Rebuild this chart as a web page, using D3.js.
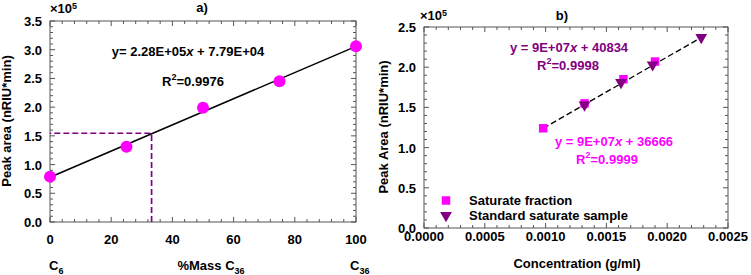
<!DOCTYPE html>
<html>
<head>
<meta charset="utf-8">
<script src="https://cdn.jsdelivr.net/npm/d3@7"></script>
<style>
  body { margin: 0; background: #fff; }
  svg text { font-family: "Liberation Sans", Arial, sans-serif; font-weight: bold; font-size: 13px; }
</style>
</head>
<body>
<svg id="chart" width="751" height="275"></svg>
<script>
// panel a) calibration with C6/C36 mixtures (values x1e5)
const massPct = [0, 25, 50, 75, 100];
const peakAreaA = [0.79, 1.31, 1.99, 2.45, 3.06];
const fitA = { slope: 2.28, intercept: 0.779 }; // per fraction, x1e5
const readX = 33.2, readY = 1.545;
const xTicksA = [0, 20, 40, 60, 80, 100];
const yTicksA = [0, 0.5, 1.0, 1.5, 2.0, 2.5, 3.0, 3.5];

// panel b) concentration series (values x1e5)
const concSat = [0.00098, 0.00132, 0.00164, 0.0019];
const areaSat = [1.24, 1.55, 1.85, 2.07];
const concStd = [0.00132, 0.00162, 0.00188, 0.00228];
const areaStd = [1.53, 1.81, 2.03, 2.37];
const trendB = { x: [0.00098, 0.00228], y: [1.24, 2.37] };
const xTicksB = [0, 0.0005, 0.001, 0.0015, 0.002, 0.0025];
const yTicksB = [0, 0.5, 1.0, 1.5, 2.0, 2.5];

const MAGENTA = "#ff00ff", PURPLE = "#800080";
const svg = d3.select("#chart");

// frame with inward ticks on all four sides
function frame(x, y, xMinor, yMinor, xMajor, yMajor) {
  const [x0, x1] = x.range(), [y0, y1] = y.range();
  const g = svg.append("g").attr("stroke", "#555").attr("stroke-width", 1);
  g.append("rect").attr("x", x0).attr("y", y1).attr("width", x1 - x0).attr("height", y0 - y1)
    .attr("fill", "none");
  const isMajor = (v, list) => list.some(m => Math.abs(m - v) < 1e-9);
  xMinor.forEach(v => {
    const len = isMajor(v, xMajor) ? 5 : 3;
    g.append("line").attr("x1", x(v)).attr("x2", x(v)).attr("y1", y0).attr("y2", y0 - len);
    g.append("line").attr("x1", x(v)).attr("x2", x(v)).attr("y1", y1).attr("y2", y1 + len);
  });
  yMinor.forEach(v => {
    const len = isMajor(v, yMajor) ? 5 : 3;
    g.append("line").attr("y1", y(v)).attr("y2", y(v)).attr("x1", x0).attr("x2", x0 + len);
    g.append("line").attr("y1", y(v)).attr("y2", y(v)).attr("x1", x1).attr("x2", x1 - len);
  });
}

function tickLabels(x, y, xTicks, yTicks, xFmt, yFmt, xBase) {
  const [x0] = x.range();
  svg.append("g").selectAll("text").data(xTicks).enter().append("text")
    .attr("x", d => x(d)).attr("y", xBase).attr("text-anchor", "middle").text(xFmt);
  svg.append("g").selectAll("text").data(yTicks).enter().append("text")
    .attr("x", x0 - 8).attr("y", d => y(d) + 5).attr("text-anchor", "end").text(yFmt);
}

function label(x, y, parts, opts = {}) {
  const t = svg.append("text").attr("x", x).attr("y", y)
    .attr("text-anchor", opts.anchor || "middle").attr("fill", opts.fill || "#000");
  if (opts.rotate) t.attr("transform", `rotate(-90,${x},${y})`);
  parts.forEach(p => {
    const s = t.append("tspan").text(p.t);
    if (p.sup) s.attr("font-size", 9).attr("dy", p.sup === true ? -6 : p.sup);
    if (p.sub) s.attr("font-size", 9).attr("dy", 4);
    if (p.back) s.attr("dy", p.back);
    if (p.it) s.attr("font-style", "italic");
  });
  return t;
}

// ---------- panel a ----------
const xA = d3.scaleLinear().domain([0, 100]).range([50, 356]);
const yA = d3.scaleLinear().domain([0, 3.5]).range([222, 21]);
frame(xA, yA, d3.range(0, 100.01, 4), d3.range(0, 3.501, 0.1), xTicksA, yTicksA);
tickLabels(xA, yA, xTicksA, yTicksA, d => d, d3.format(".1f"), 244);

svg.append("path")
  .attr("d", d3.line().x(d => xA(d[0])).y(d => yA(d[1]))([[readX, 0], [readX, readY], [0, readY]]))
  .attr("fill", "none").attr("stroke", PURPLE).attr("stroke-width", 1.7).attr("stroke-dasharray", "6,3");

svg.append("line")
  .attr("x1", xA(0)).attr("y1", yA(fitA.intercept))
  .attr("x2", xA(100)).attr("y2", yA(fitA.intercept + fitA.slope))
  .attr("stroke", "#000").attr("stroke-width", 1.5);

svg.append("g").selectAll("circle").data(massPct).enter().append("circle")
  .attr("cx", d => xA(d)).attr("cy", (d, i) => yA(peakAreaA[i])).attr("r", 6).attr("fill", MAGENTA);

label(50, 13, [{ t: "×10" }, { t: "5", sup: -4 }], { anchor: "start" });
label(202, 12, [{ t: "a)" }]);
label(188, 56, [{ t: "y= 2.28E+05" }, { t: "x", it: true }, { t: " + 7.79E+04" }]);
label(193, 86, [{ t: "R" }, { t: "2", sup: true }, { t: "=0.9976", back: 6 }]);
label(11, 121, [{ t: "Peak area (nRIU*min)" }], { rotate: true });
label(49, 270, [{ t: "C" }, { t: "6", sub: true }], { anchor: "start" });
label(211, 270, [{ t: "%Mass C" }, { t: "36", sub: true }]);
label(350, 270, [{ t: "C" }, { t: "36", sub: true }], { anchor: "start" });

// ---------- panel b ----------
const xB = d3.scaleLinear().domain([0, 0.0025]).range([424, 728]);
const yB = d3.scaleLinear().domain([0, 2.5]).range([228, 27]);
frame(xB, yB, d3.range(0, 0.002501, 0.0001), d3.range(0, 2.501, 0.1), xTicksB, yTicksB);
tickLabels(xB, yB, xTicksB, yTicksB, d3.format(".4f"), d3.format(".1f"), 241);

svg.append("line")
  .attr("x1", xB(trendB.x[0])).attr("y1", yB(trendB.y[0]))
  .attr("x2", xB(trendB.x[1])).attr("y2", yB(trendB.y[1]))
  .attr("stroke", "#000").attr("stroke-width", 1.3).attr("stroke-dasharray", "6,3");

const sq = d3.symbol().type(d3.symbolSquare).size(72);
const tri = d3.symbol().type(d3.symbolTriangle).size(60);

svg.append("g").selectAll("path").data(concSat).enter().append("path")
  .attr("d", sq).attr("fill", MAGENTA)
  .attr("transform", (d, i) => `translate(${xB(d)},${yB(areaSat[i])})`);
svg.append("g").selectAll("path").data(concStd).enter().append("path")
  .attr("d", tri).attr("fill", PURPLE)
  .attr("transform", (d, i) => `translate(${xB(d)},${yB(areaStd[i])}) rotate(180)`);

label(420, 20, [{ t: "×10" }, { t: "5", sup: -4 }], { anchor: "start" });
label(562, 20, [{ t: "b)" }]);
label(569, 52, [{ t: "y = 9E+07" }, { t: "x", it: true }, { t: " + 40834" }], { fill: PURPLE });
label(568, 70, [{ t: "R" }, { t: "2", sup: true }, { t: "=0.9998", back: 6 }], { fill: PURPLE });
label(614, 146, [{ t: "y = 9E+07" }, { t: "x", it: true }, { t: " + 36666" }], { fill: MAGENTA });
label(607, 164, [{ t: "R" }, { t: "2", sup: true }, { t: "=0.9999", back: 6 }], { fill: MAGENTA });
label(388, 127, [{ t: "Peak Area (nRIU*min)" }], { rotate: true });
label(577, 268, [{ t: "Concentration (g/ml)" }]);

// legend
const legend = [
  { name: "Saturate fraction", sym: sq, fill: MAGENTA, rot: 0 },
  { name: "Standard saturate sample", sym: tri, fill: PURPLE, rot: 180 }
];
legend.forEach((l, i) => {
  const cy = 200.5 + i * 15;
  svg.append("path").attr("d", l.sym).attr("fill", l.fill)
    .attr("transform", `translate(446,${cy}) rotate(${l.rot})`);
  label(469, cy + 4.5, [{ t: l.name }], { anchor: "start" });
});
</script>
</body>
</html>
